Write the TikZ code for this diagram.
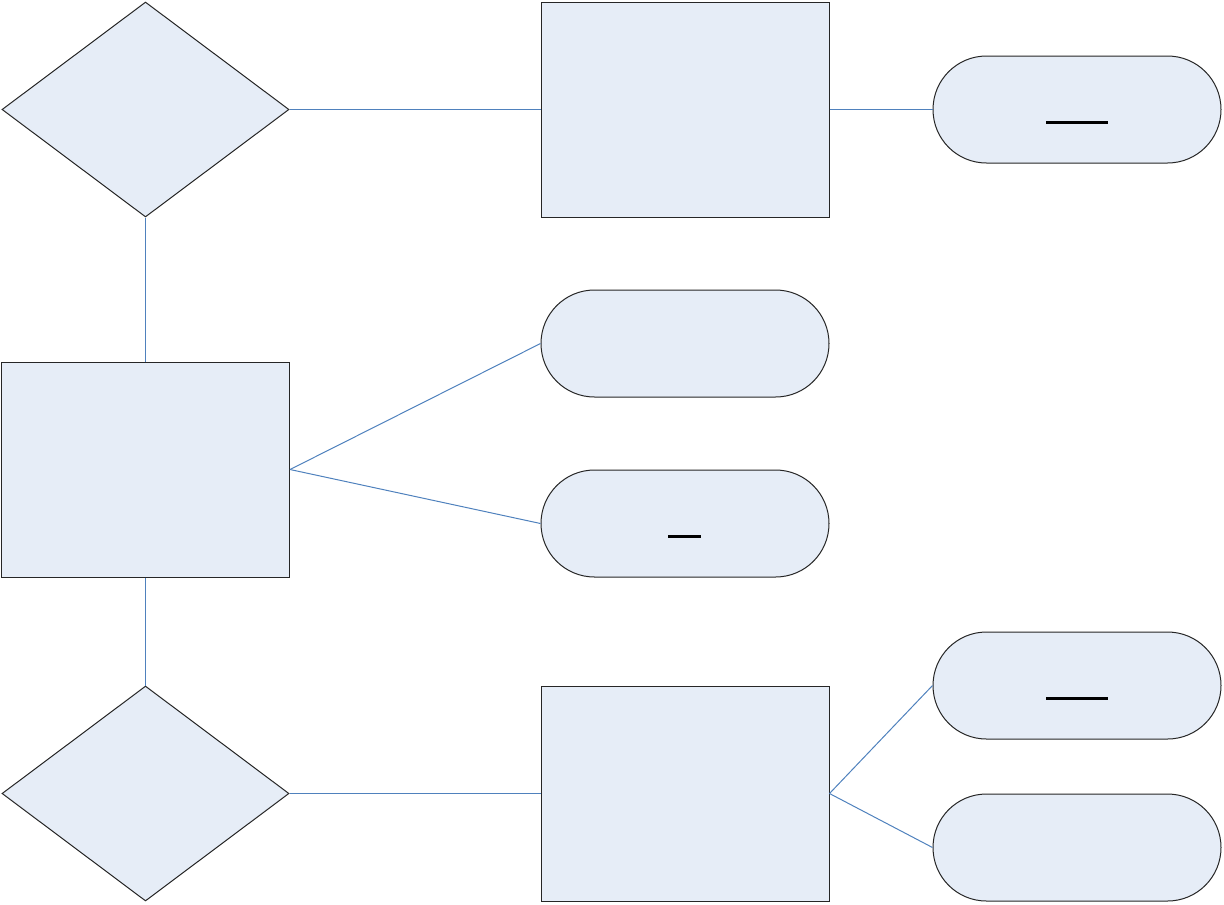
\documentclass[tikz,border=0pt]{standalone}
\usepackage{tikz}
\usetikzlibrary{shapes.geometric}
\definecolor{relleno}{RGB}{230,237,247}
\definecolor{enlace}{RGB}{79,129,189}

\begin{document}
\begin{tikzpicture}[
		x=0.75pt, y=-0.75pt, % una unidad = un pixel
		% --- Estilos ---
		entidad/.style={
			draw=black!85,
			fill=relleno,
			rectangle,
			minimum width=216pt,
			minimum height=161.25pt,
			line width=0.75pt
		},
		relacion/.style={
			draw=black!85,
			fill=relleno,
			diamond,
			inner sep=0pt,
			minimum width=215.25pt,
			minimum height=161.25pt,
			line width=0.75pt
		},
		atributo/.style={
			draw=black!85,
			fill=relleno,
			rectangle,
			rounded corners=40.1pt,
			minimum width=216pt,
			minimum height=80.25pt,
			line width=0.75pt
		},
		enlace/.style={
			draw=enlace,
			line width=0.75pt
		},
		clave/.style={
			line width=2.2pt
		}
		]
		\useasboundingbox (0,0) rectangle (1224,904);
		
		% 1. Nodos: relaciones y entidades
		\node[relacion] (rel_sup) at (145.5,109.5) {};
		\node[entidad] (ent_sup) at (685,109.5) {};
		\node[entidad] (ent_centro) at (145.5,469.5) {};
		\node[relacion] (rel_inf) at (145.5,793.5) {};
		\node[entidad] (ent_inf) at (685,793.5) {};
		
		% 2. Atributos
		\node[atributo] (atr_sup) at (1077,109.5) {};
		\node[atributo] (atr_centro_a) at (685,343.5) {};
		\node[atributo] (atr_centro_b) at (685,523.5) {};
		\node[atributo] (atr_inf_a) at (1077,685.5) {};
		\node[atributo] (atr_inf_b) at (1077,847.5) {};
		
		% 3. Lineas de union
		\draw[enlace] (rel_sup.east) -- (ent_sup.west);
		\draw[enlace] (ent_sup.east) -- (atr_sup.west);
		\draw[enlace] (rel_sup.south) -- (ent_centro.north);
		\draw[enlace] (ent_centro.south) -- (rel_inf.north);
		\draw[enlace] (rel_inf.east) -- (ent_inf.west);
		\draw[enlace] (ent_centro.east) -- (atr_centro_a.west);
		\draw[enlace] (ent_centro.east) -- (atr_centro_b.west);
		\draw[enlace] (ent_inf.east) -- (atr_inf_a.west);
		\draw[enlace] (ent_inf.east) -- (atr_inf_b.west);
		
		% 4. Subrayado de las claves
		\draw[clave] ([xshift=-23.25pt, yshift=-9.4pt]atr_sup.center) -- ++(62,0);
		\draw[clave] ([xshift=-12.4pt, yshift=-9.4pt]atr_centro_b.center) -- ++(33,0);
		\draw[clave] ([xshift=-23.25pt, yshift=-9.4pt]atr_inf_a.center) -- ++(62,0);
		
\end{tikzpicture}
\end{document}
